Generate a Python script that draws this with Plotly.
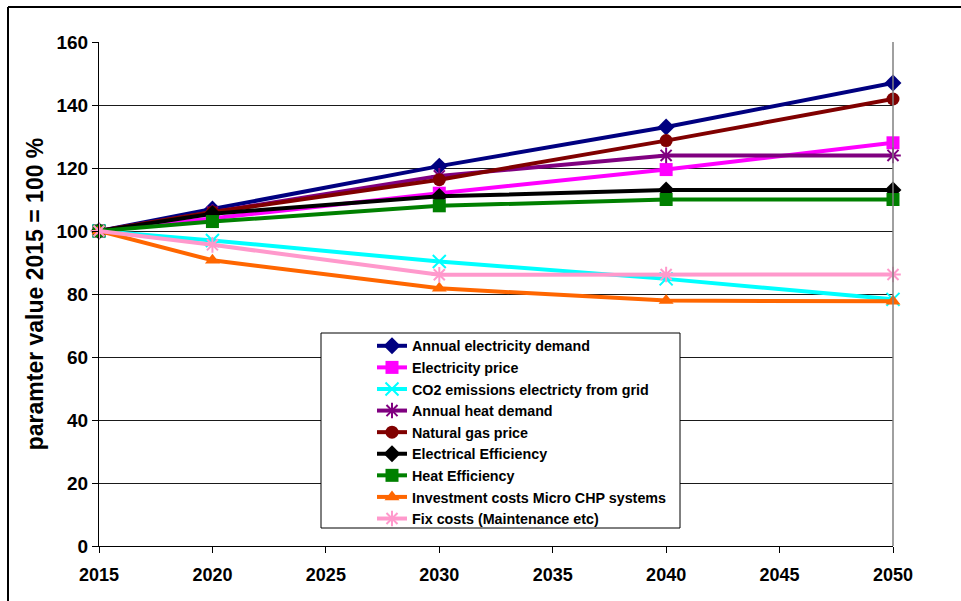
import plotly.graph_objects as go

# Scenario years and parameter trajectories (index, 2015 = 100 %)
years = [2015, 2020, 2030, 2040, 2050]

annual_electricity_demand = [100, 107.0, 120.6, 133.0, 147.0]
electricity_price = [100, 104.0, 112.0, 119.5, 128.0]
co2_emissions_grid = [100, 97.0, 90.3, 84.8, 78.3]
annual_heat_demand = [100, 106.0, 117.5, 124.0, 124.0]
natural_gas_price = [100, 106.0, 116.3, 128.7, 141.9]
electrical_efficiency = [100, 105.5, 111.0, 113.0, 113.0]
heat_efficiency = [100, 103.0, 108.0, 110.0, 110.0]
investment_costs_chp = [100, 90.7, 81.8, 77.9, 77.7]
fix_costs = [100, 95.6, 86.1, 86.2, 86.2]

series_names = [
    "Annual electricity demand",
    "Electricity price",
    "CO2 emissions electricty from grid",
    "Annual heat demand",
    "Natural gas price",
    "Electrical Efficiency",
    "Heat Efficiency",
    "Investment costs Micro CHP systems",
    "Fix costs (Maintenance etc)",
]
series_values = [
    annual_electricity_demand,
    electricity_price,
    co2_emissions_grid,
    annual_heat_demand,
    natural_gas_price,
    electrical_efficiency,
    heat_efficiency,
    investment_costs_chp,
    fix_costs,
]
series_colors = ["#000080", "#FF00FF", "#00FFFF", "#800080", "#800000",
                 "#000000", "#008000", "#FF6600", "#FF99CC"]
series_symbols = ["diamond", "square", "x-thin-open", "asterisk-open", "circle",
                  "diamond", "square", "triangle-up", "asterisk-open"]
series_sizes = [13, 13, 13, 13, 13, 13, 13, 13, 13]

x_ticks = [2015, 2020, 2025, 2030, 2035, 2040, 2045, 2050]
y_ticks = [0, 20, 40, 60, 80, 100, 120, 140, 160]

FONT = "Liberation Sans, Arial, sans-serif"

fig = go.Figure()
for name, vals, col, sym, sz in zip(series_names, series_values, series_colors,
                                    series_symbols, series_sizes):
    open_marker = sym.endswith("-open")
    fig.add_trace(go.Scatter(
        x=years, y=vals, name=name, mode="lines+markers",
        line=dict(color=col, width=4),
        marker=dict(symbol=sym, size=sz, color=col,
                    line=dict(color=col, width=2 if open_marker else 0)),
        cliponaxis=False,
    ))

# Plot-area geometry in pixels (for placing the legend frame and chart border)
W, H = 961, 601
L, R, T, B = 99, 68, 42, 55
pw, ph = W - L - R, H - T - B


def px_x(px):
    return (px - L) / pw


def px_y(py):
    return (H - B - py) / ph


shapes = [
    # right edge of plot area
    dict(type="line", xref="paper", yref="paper", x0=1, x1=1, y0=0, y1=1,
         line=dict(color="#808080", width=1.5)),
    # legend frame
    dict(type="rect", xref="paper", yref="paper",
         x0=px_x(321), x1=px_x(680), y0=px_y(528), y1=px_y(333),
         fillcolor="white", line=dict(color="black", width=1), layer="above"),
    # outer chart border
    dict(type="line", xref="paper", yref="paper",
         x0=px_x(8), x1=px_x(8), y0=px_y(7), y1=px_y(620),
         line=dict(color="black", width=2)),
    dict(type="line", xref="paper", yref="paper",
         x0=px_x(8), x1=px_x(980), y0=px_y(7), y1=px_y(7),
         line=dict(color="black", width=2)),
]

fig.update_layout(
    width=W, height=H,
    margin=dict(l=L, r=R, t=T, b=B),
    paper_bgcolor="white", plot_bgcolor="white",
    font=dict(family=FONT, color="black", weight="bold"),
    showlegend=True,
    legend=dict(
        x=px_x(372), y=px_y(330), xanchor="left", yanchor="top",
        bgcolor="rgba(0,0,0,0)", borderwidth=0,
        font=dict(family=FONT, size=14.3, color="black", weight="bold"),
        itemwidth=30, tracegroupgap=0,
    ),
    xaxis=dict(
        range=[2015, 2050], tickvals=x_ticks, ticktext=[str(v) for v in x_ticks],
        showgrid=False, zeroline=False,
        showline=True, linecolor="black", linewidth=1,
        ticks="outside", ticklen=6, tickcolor="black",
        ticklabelstandoff=6,
        tickfont=dict(family=FONT, size=18, weight="bold"),
    ),
    yaxis=dict(
        range=[0, 160], tickvals=y_ticks,
        showgrid=True, gridcolor="#1a1a1a", gridwidth=1, zeroline=False,
        showline=True, linecolor="black", linewidth=1,
        ticks="outside", ticklen=6, tickcolor="black",
        tickfont=dict(family=FONT, size=19, weight="bold"),
        title=dict(text="paramter value 2015 = 100 %", standoff=6,
                   font=dict(family=FONT, size=23, weight="bold")),
    ),
    shapes=shapes,
)

fig.write_html("out.html")
